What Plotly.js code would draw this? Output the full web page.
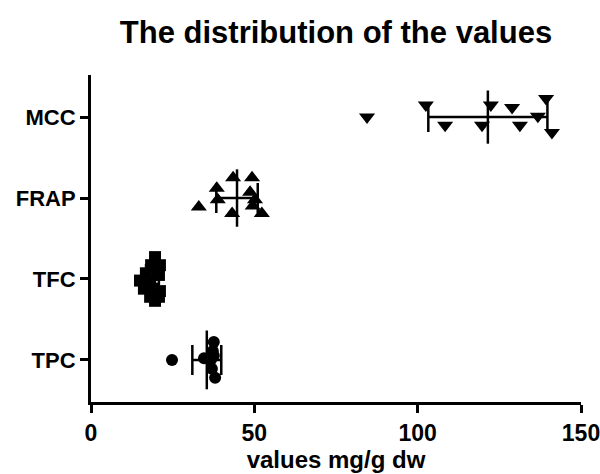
<!DOCTYPE html>
<html>
<head>
<meta charset="utf-8">
<script src="https://cdn.plot.ly/plotly-3.0.1.min.js"></script>
<style>html,body{margin:0;padding:0;background:#fff}#chart{width:600px;height:474px}</style>
</head>
<body>
<div id="chart"></div>
<script>
// Categories (bottom to top)
var categories = ["TPC", "TFC", "FRAP", "MCC"];

// Values (mg/g dw)
var tpcValues  = [24.8, 34.6, 37.6, 37.3, 36.7, 37.0, 38.0, 37.6];
var tfcValues  = [19.6, 18.4, 21.1, 16.8, 20.8, 15.0, 18.1, 16.2, 19.0, 21.1, 18.1, 20.8, 19.6];
var frapValues = [33.0, 38.5, 38.8, 43.5, 43.2, 49.3, 48.7, 49.5, 52.3, 50.2];
var mccValues  = [84.5, 102.5, 108.4, 119.7, 122.4, 128.9, 131.3, 136.8, 139.3, 141.1];

// Vertical scatter (jitter) of each point, in category units
var tpcJitter  = [0.00, 0.02, 0.22, 0.11, 0.00, -0.11, -0.22, 0.05];
var tfcJitter  = [0.27, 0.17, 0.17, 0.07, 0.05, -0.02, -0.02, -0.12, -0.12, -0.15, -0.22, -0.22, -0.27];
var frapJitter = [-0.11, 0.12, -0.02, 0.25, -0.19, 0.25, 0.07, -0.10, -0.19, -0.02];
var mccJitter  = [0.00, 0.15, -0.10, -0.10, 0.15, 0.12, -0.10, 0.01, 0.23, -0.19];

var groups = [
  {vals: tpcValues,  jit: tpcJitter,  sym: "circle",        size: 12, bar: 42},
  {vals: tfcValues,  jit: tfcJitter,  sym: "square",        size: 12, bar: 36},
  {vals: frapValues, jit: frapJitter, sym: "triangle-up",   size: 14, bar: 41},
  {vals: mccValues,  jit: mccJitter,  sym: "triangle-down", size: 14, bar: 38}
];

function mean(a){ return a.reduce(function(s,v){return s+v;},0)/a.length; }
function sd(a){ var m=mean(a); return Math.sqrt(a.reduce(function(s,v){return s+(v-m)*(v-m);},0)/(a.length-1)); }

var traces = [];
groups.forEach(function(g, i){
  traces.push({
    type: "scatter", mode: "markers",
    x: g.vals,
    y: g.jit.map(function(j){ return i + j; }),
    marker: {symbol: g.sym, size: g.size, color: "#000", line: {width: 0}},
    hoverinfo: "x", showlegend: false, cliponaxis: false
  });
});
groups.forEach(function(g, i){
  traces.push({
    type: "scatter", mode: "markers",
    x: [mean(g.vals)], y: [i],
    marker: {symbol: "line-ns", size: g.bar, color: "#000", line: {width: 2.5, color: "#000"}},
    error_x: {type: "data", array: [sd(g.vals)], visible: true, color: "#000", thickness: 2.5, width: 15},
    hoverinfo: "x", showlegend: false, cliponaxis: false
  });
});

var layout = {
  width: 600, height: 474,
  margin: {l: 91, r: 19, t: 75, b: 72},
  paper_bgcolor: "#fff", plot_bgcolor: "#fff",
  font: {family: "Liberation Sans, Arial, sans-serif", color: "#000"},
  title: {text: "<b>The distribution of the values</b>", x: 0.5, xref: "paper", y: 0.932, yref: "container", yanchor: "middle",
          font: {size: 31, color: "#000", family: "Liberation Sans, Arial, sans-serif"}},
  xaxis: {
    range: [0, 150], tickvals: [0, 50, 100, 150], ticktext: ["<b>0</b>", "<b>50</b>", "<b>100</b>", "<b>150</b>"],
    showgrid: false, zeroline: false, showline: true, linecolor: "#000", linewidth: 3,
    ticks: "outside", ticklen: 8, tickwidth: 3, tickcolor: "#000",
    tickfont: {size: 23, color: "#000"}, ticklabelstandoff: 0, ticklabeloverflow: "allow",
    title: {text: "<b>values mg/g dw</b>", font: {size: 24, color: "#000"}, standoff: 6}
  },
  yaxis: {
    range: [-0.52, 3.52], tickvals: [0, 1, 2, 3],
    ticktext: categories.map(function(c){ return "<b>" + c + "</b>"; }),
    showgrid: false, zeroline: false, showline: true, linecolor: "#000", linewidth: 3,
    ticks: "outside", ticklen: 8, tickwidth: 3, tickcolor: "#000",
    tickfont: {size: 22, color: "#000"}
  }
};

Plotly.newPlot("chart", traces, layout, {staticPlot: true, displayModeBar: false});
</script>
</body>
</html>
